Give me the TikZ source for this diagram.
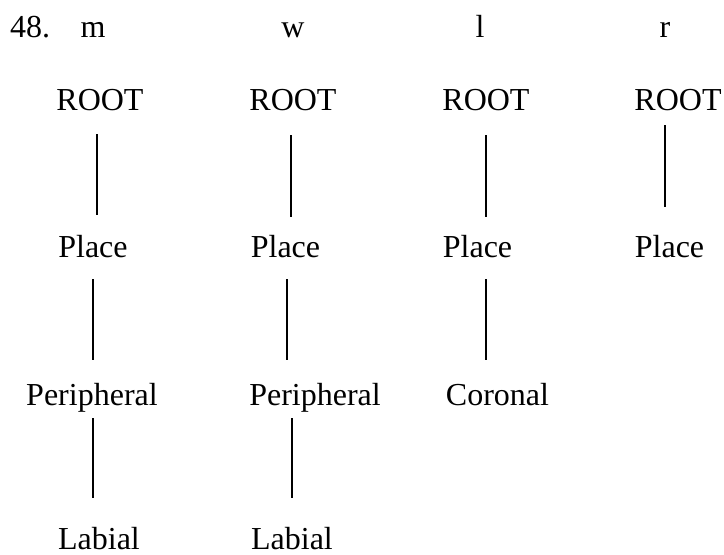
\documentclass[tikz,border=0pt]{standalone}
\usepackage{fontspec}
\setmainfont{Liberation Serif}
\begin{document}
\begin{tikzpicture}[x=1pt,y=-1pt,
  lbl/.style={anchor=base,inner sep=0pt,font=\fontsize{32}{37}\selectfont},
  branch/.style={line width=1.8pt}]
\useasboundingbox (0,0) rectangle (724,555);

% example number and segment headings
\node[lbl,anchor=base west] (num) at (10,37) {48.};
\node[lbl] (hm) at (93,37) {m};
\node[lbl] (hw) at (293,37) {w};
\node[lbl] (hl) at (480,37) {l};
\node[lbl] (hr) at (665,37) {r};

% ROOT row
\node[lbl] (rootm) at (100,110) {ROOT};
\node[lbl] (rootw) at (293,110) {ROOT};
\node[lbl] (rootl) at (486,110) {ROOT};
\node[lbl] (rootr) at (678,110) {ROOT};

% Place row
\node[lbl] (placem) at (93,257) {Place};
\node[lbl] (placew) at (285.5,257) {Place};
\node[lbl] (placel) at (477.5,257) {Place};
\node[lbl] (placer) at (669.5,257) {Place};

% articulator row
\node[lbl] (perm) at (92,405) {Peripheral};
\node[lbl] (perw) at (315,405) {Peripheral};
\node[lbl] (corl) at (497.5,405) {Coronal};

% terminal row
\node[lbl] (labm) at (99,549) {Labial};
\node[lbl] (labw) at (292,549) {Labial};

% association line end points
\coordinate (m1t) at (97,134);  \coordinate (m1b) at (97,215);
\coordinate (m2t) at (93,279);  \coordinate (m2b) at (93,360);
\coordinate (m3t) at (93,418);  \coordinate (m3b) at (93,498);
\coordinate (w1t) at (291,135); \coordinate (w1b) at (291,217);
\coordinate (w2t) at (287,279); \coordinate (w2b) at (287,360);
\coordinate (w3t) at (292,418); \coordinate (w3b) at (292,498);
\coordinate (l1t) at (486,135); \coordinate (l1b) at (486,217);
\coordinate (l2t) at (486,279); \coordinate (l2b) at (486,360);
\coordinate (r1t) at (665,125); \coordinate (r1b) at (665,207);

% association lines
\draw[branch] (m1t) -- (m1b);
\draw[branch] (m2t) -- (m2b);
\draw[branch] (m3t) -- (m3b);
\draw[branch] (w1t) -- (w1b);
\draw[branch] (w2t) -- (w2b);
\draw[branch] (w3t) -- (w3b);
\draw[branch] (l1t) -- (l1b);
\draw[branch] (l2t) -- (l2b);
\draw[branch] (r1t) -- (r1b);
\end{tikzpicture}
\end{document}
